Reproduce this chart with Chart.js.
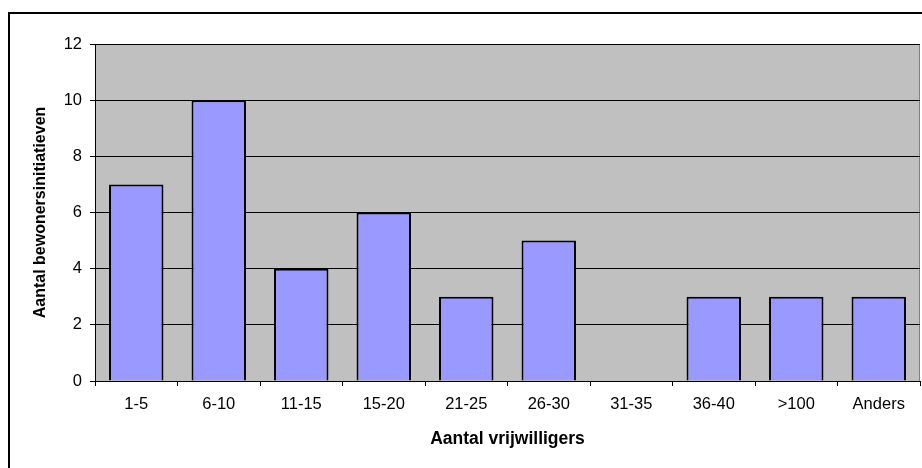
<!DOCTYPE html>
<html>
<head>
<meta charset="utf-8">
<script src="https://cdn.jsdelivr.net/npm/chart.js@4.4.1/dist/chart.umd.min.js"></script>
<style>
  html, body { margin: 0; padding: 0; background: #ffffff; }
  #wrap { width: 922px; height: 468px; }
</style>
</head>
<body>
<div id="wrap"><canvas id="vrijwilligers" width="922" height="468"></canvas></div>
<script>
// categories (number of volunteers) and count of initiatives per group
const categories = ["1-5", "6-10", "11-15", "15-20", "21-25", "26-30", "31-35", "36-40", ">100", "Anders"];
const initiatieven = [7, 10, 4, 6, 3, 5, 0, 3, 3, 3];
const yTicks = [0, 2, 4, 6, 8, 10, 12];

const tickFont = { family: "Arial, 'Liberation Sans', sans-serif", size: 16.5 };
const titleFont = { family: "Arial, 'Liberation Sans', sans-serif", size: 16, weight: "bold" };

// gray plot area + the frame around the whole chart
const frame = {
    id: "frame",
    beforeDraw(chart) {
        const { ctx, chartArea: a } = chart;
        ctx.save();
        ctx.fillStyle = "#ffffff";
        ctx.fillRect(0, 0, chart.width, chart.height);
        ctx.fillStyle = "#c0c0c0";
        ctx.fillRect(a.left, a.top, a.right - a.left, a.bottom - a.top);
        ctx.strokeStyle = "#808080";
        ctx.lineWidth = 1;
        ctx.beginPath();
        ctx.moveTo(a.right - 0.5, a.top);
        ctx.lineTo(a.right - 0.5, a.bottom);
        ctx.stroke();
        ctx.strokeStyle = "#000000";
        ctx.lineWidth = 2;
        ctx.strokeRect(9, 13, chart.width + 20, chart.height + 20);
        ctx.restore();
    }
};

new Chart(document.getElementById("vrijwilligers"), {
    type: "bar",
    data: {
        labels: categories,
        datasets: [{
            data: initiatieven,
            backgroundColor: "#9999ff",
            borderColor: "#000000",
            borderWidth: 2,
            borderSkipped: "start",
            categoryPercentage: 1,
            barPercentage: 0.66
        }]
    },
    options: {
        responsive: false,
        animation: false,
        devicePixelRatio: 1,
        layout: { padding: { left: 0, top: 44, right: 2, bottom: 0 } },
        plugins: {
            legend: { display: false },
            tooltip: { enabled: false }
        },
        scales: {
            x: {
                grid: {
                    display: true,
                    drawOnChartArea: false,
                    drawTicks: true,
                    tickLength: 5,
                    color: "#000000",
                    offset: true
                },
                border: { display: true, color: "#000000", width: 1 },
                ticks: { color: "#000000", font: tickFont, padding: 9, maxRotation: 0, autoSkip: false },
                title: {
                    display: true,
                    text: "Aantal vrijwilligers",
                    color: "#000000",
                    font: { ...titleFont, size: 17.5 },
                    padding: { top: 0, bottom: 18 }
                },
                afterFit(scale) { scale.height = 87; }
            },
            y: {
                min: 0,
                max: 12,
                afterBuildTicks(scale) { scale.ticks = yTicks.map(v => ({ value: v })); },
                grid: {
                    color: "#000000",
                    tickLength: 5,
                    drawTicks: true
                },
                border: { display: true, color: "#000000", width: 1 },
                ticks: { color: "#000000", font: tickFont, padding: 8 },
                title: {
                    display: true,
                    text: "Aantal bewonersinitiatieven",
                    color: "#000000",
                    font: titleFont,
                    padding: { top: 31, bottom: 0 }
                },
                afterFit(scale) { scale.width = 95; }
            }
        }
    },
    plugins: [frame]
});
</script>
</body>
</html>
